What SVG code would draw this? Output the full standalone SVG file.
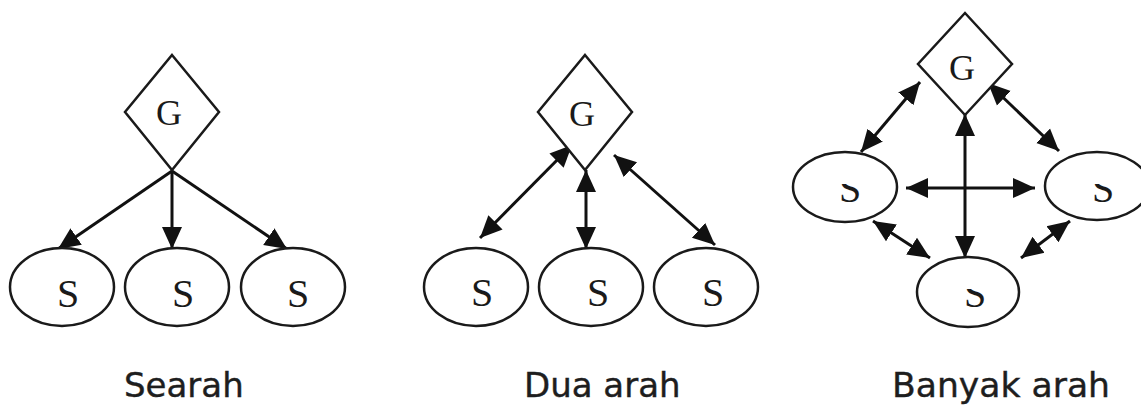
<svg xmlns="http://www.w3.org/2000/svg" width="1141" height="405" viewBox="0 0 1141 405">
  <style>
    .shape { fill: #fff; stroke: #1a1a1a; stroke-width: 2.5; }
    .edge { fill: none; stroke: #111; stroke-width: 3; }
    .lbl { font-family: "Liberation Serif", "Times New Roman", serif; fill: #1a1a1a; text-anchor: middle; }
    .g { font-size: 36px; }
    .s { font-size: 40px; }
    .cap { font-family: "DejaVu Sans", Verdana, sans-serif; font-size: 34px; fill: #1e1e1e; stroke: #1e1e1e; stroke-width: 0.4; }
  </style>
  <defs>
    <marker id="head" viewBox="0 0 22 22" refX="22" refY="11" markerWidth="22" markerHeight="22" markerUnits="userSpaceOnUse" orient="auto-start-reverse">
      <path d="M0,1 L22,11 L0,21 Z" fill="#111"/>
    </marker>
    <!-- the S labels of the third cluster only show their lower part -->
    <clipPath id="clipL"><rect x="820" y="184" width="60" height="30"/></clipPath>
    <clipPath id="clipR"><rect x="1075" y="184" width="60" height="30"/></clipPath>
    <clipPath id="clipB"><rect x="945" y="289" width="60" height="30"/></clipPath>
  </defs>

  <!-- connectors -->
  <g id="connectors">
    <!-- one-way -->
    <line class="edge" x1="172" y1="171" x2="58" y2="249" marker-end="url(#head)"/>
    <line class="edge" x1="172" y1="171" x2="172" y2="249" marker-end="url(#head)"/>
    <line class="edge" x1="172" y1="171" x2="287" y2="249" marker-end="url(#head)"/>
    <!-- two-way -->
    <line class="edge" x1="572" y1="145" x2="480" y2="238" marker-start="url(#head)" marker-end="url(#head)"/>
    <line class="edge" x1="586" y1="170" x2="586" y2="249" marker-start="url(#head)" marker-end="url(#head)"/>
    <line class="edge" x1="614" y1="155" x2="715" y2="245" marker-start="url(#head)" marker-end="url(#head)"/>
    <!-- many-way -->
    <line class="edge" x1="920" y1="82" x2="861" y2="152" marker-start="url(#head)" marker-end="url(#head)"/>
    <line class="edge" x1="988" y1="83" x2="1059" y2="151" marker-start="url(#head)" marker-end="url(#head)"/>
    <line class="edge" x1="965" y1="114" x2="965" y2="258" marker-start="url(#head)" marker-end="url(#head)"/>
    <line class="edge" x1="906" y1="188" x2="1035" y2="188" marker-start="url(#head)" marker-end="url(#head)"/>
    <line class="edge" x1="873" y1="221" x2="930" y2="258" marker-start="url(#head)" marker-end="url(#head)"/>
    <line class="edge" x1="1070" y1="221" x2="1021" y2="258" marker-start="url(#head)" marker-end="url(#head)"/>
  </g>

  <!-- cluster 1: Searah -->
  <g id="g1">
    <polygon class="shape" points="172,55 219,112 172,170 125,112"/>
    <text class="lbl g" x="169" y="125">G</text>
  </g>
  <g id="s1a">
    <ellipse class="shape" cx="62" cy="287" rx="52" ry="39"/>
    <text class="lbl s" x="68" y="307">S</text>
  </g>
  <g id="s1b">
    <ellipse class="shape" cx="177" cy="287" rx="52" ry="39"/>
    <text class="lbl s" x="183" y="307">S</text>
  </g>
  <g id="s1c">
    <ellipse class="shape" cx="293" cy="287" rx="52" ry="39"/>
    <text class="lbl s" x="298" y="307">S</text>
  </g>

  <!-- cluster 2: Dua arah -->
  <g id="g2">
    <polygon class="shape" points="585,55 632,112 585,170 538,112"/>
    <text class="lbl g" x="582" y="126">G</text>
  </g>
  <g id="s2a">
    <ellipse class="shape" cx="476" cy="287" rx="52" ry="39"/>
    <text class="lbl s" x="482" y="306">S</text>
  </g>
  <g id="s2b">
    <ellipse class="shape" cx="591" cy="287" rx="52" ry="39"/>
    <text class="lbl s" x="598" y="306">S</text>
  </g>
  <g id="s2c">
    <ellipse class="shape" cx="706" cy="287" rx="52" ry="39"/>
    <text class="lbl s" x="713" y="306">S</text>
  </g>

  <!-- cluster 3: Banyak arah -->
  <g id="g3">
    <polygon class="shape" points="965,13 1012,64 965,115 918,64"/>
    <text class="lbl g" x="962" y="80">G</text>
  </g>
  <g id="s3l">
    <ellipse class="shape" cx="845" cy="187" rx="52" ry="35"/>
    <text class="lbl s" x="850" y="202" clip-path="url(#clipL)">S</text>
  </g>
  <g id="s3r">
    <ellipse class="shape" cx="1097" cy="186" rx="52" ry="34"/>
    <text class="lbl s" x="1103" y="202" clip-path="url(#clipR)">S</text>
  </g>
  <g id="s3b">
    <ellipse class="shape" cx="968" cy="292" rx="51" ry="35"/>
    <text class="lbl s" x="975" y="307" clip-path="url(#clipB)">S</text>
  </g>

  <!-- captions -->
  <text class="cap" x="124" y="397">Searah</text>
  <text class="cap" x="524" y="397">Dua arah</text>
  <text class="cap" x="892" y="397" textLength="218" lengthAdjust="spacingAndGlyphs">Banyak arah</text>
</svg>
